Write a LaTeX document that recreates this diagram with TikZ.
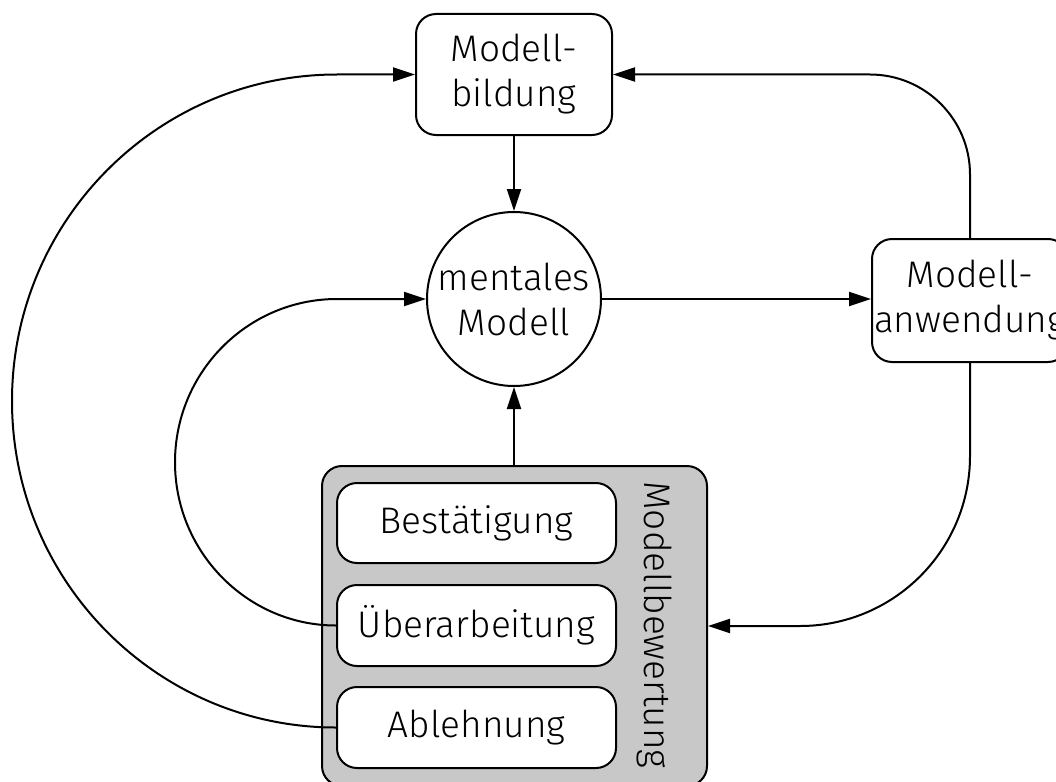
\documentclass[tikz,border=0pt]{standalone}
\usepackage{fontspec}
\setmainfont{Fira Sans}[UprightFont={* Light}]
\usetikzlibrary{arrows.meta}
\definecolor{panel}{RGB}{200,200,200}
\begin{document}
\begin{tikzpicture}[x=1pt,y=-1pt,
  line width=2pt,
  font=\fontsize{37}{45}\selectfont,
  box/.style={draw, rounded corners=20pt, fill=white, align=center, inner sep=0pt},
  arr/.style={-{Triangle[length=22pt,width=14pt]}},
]
\useasboundingbox (0,0) rectangle (1056,781);
\clip (0,0) rectangle (1056,781);

% main stages
\node[box, minimum width=196pt, minimum height=121pt] (bild) at (514,74.5) {Modell-\\bildung};
\node[draw, circle, fill=white, minimum size=174pt, align=center, inner sep=0pt] (ment) at (514,299) {mentales\\Modell};
\node[box, minimum width=196pt, minimum height=123pt] (anw) at (970,300.5) {Modell-\\anwendung};

% evaluation panel with its three outcomes
\node[draw, rounded corners=20pt, fill=panel, minimum width=385pt, minimum height=320pt, inner sep=0pt] (bew) at (514.5,626) {};
\node[box, minimum width=279pt, minimum height=80pt] (best) at (476.5,523) {Bestätigung};
\node[box, minimum width=279pt, minimum height=81pt] (ueb) at (476.5,625.5) {Überarbeitung};
\node[box, minimum width=279pt, minimum height=81pt] (abl) at (476.5,727.5) {Ablehnung};
\node[rotate=-90, inner sep=0pt] (bewlabel) at (654,625) {Modellbewertung};

% straight connectors
\draw[arr] (bild) -- (ment);
\draw[arr] (ment.east) -- (ment.east -| anw.west);
\draw[arr] (ment.south |- bew.north) -- (ment.south);
\draw[arr, rounded corners=100pt] (anw.north) |- (bild.east);
\draw[arr, rounded corners=170pt] (anw.south) |- (bew.east);

% revision loop: half ellipse back to the mental model
\draw[arr] (ueb.west)
  .. controls (247.5,625.5) and (175,552.2) .. (175,462.25)
  .. controls (175,372.3) and (247.5,299) .. (337,299)
  -- (ment.west);

% rejection loop: half ellipse back to model building
\draw[arr] (abl.west)
  .. controls (157.5,727.5) and (12,581.3) .. (12,401)
  .. controls (12,220.7) and (157.5,74.5) .. (337,74.5)
  -- (bild.west);
\end{tikzpicture}
\end{document}
